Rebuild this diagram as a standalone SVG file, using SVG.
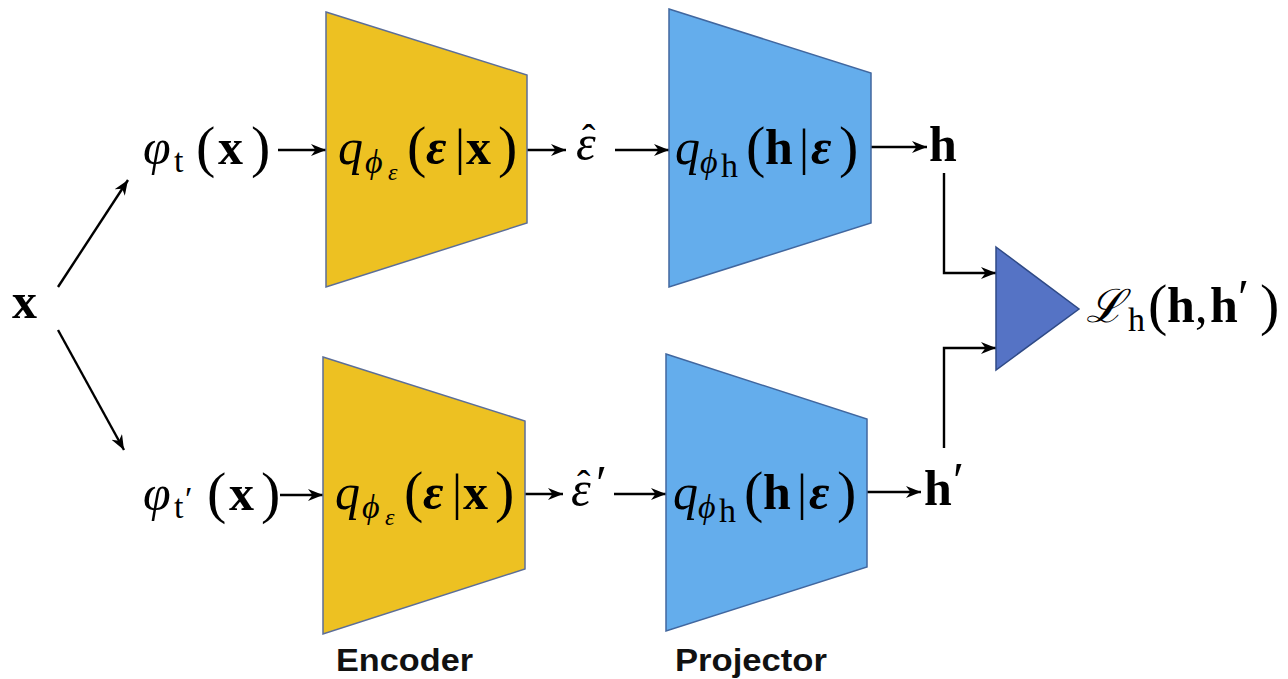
<svg xmlns="http://www.w3.org/2000/svg" width="1288" height="679" viewBox="0 0 1288 679">
<defs>
<marker id="ah" markerUnits="userSpaceOnUse" markerWidth="18" markerHeight="14" refX="15" refY="6" orient="auto">
<path d="M0,0 L15,6 L0,12 L4.5,6 z" fill="#000"/>
</marker>
<style>
.m{font-family:"Liberation Serif","DejaVu Serif",serif;font-size:50px;fill:#000}
.i{font-style:italic}
.b{font-weight:bold}
.s{font-size:34px}
.ss{font-size:24px}
.p{font-size:58px;font-weight:normal;font-style:normal}
.hat{font-size:40px;font-style:normal}
.cal{font-family:"DejaVu Serif","Liberation Serif",serif;font-size:46px}
.enc{fill:#EDC122;stroke:#5C6E98;stroke-width:1.5}
.proj{fill:#64ADEC;stroke:#41679F;stroke-width:1.5}
.loss{fill:#5573C5;stroke:#2F4A86;stroke-width:1.5}
.cn{fill:none;stroke:#000;stroke-width:2.4;marker-end:url(#ah)}
.lbl{font-family:"Liberation Sans",Arial,sans-serif;font-weight:bold;font-size:31px;fill:#111}
</style>
</defs>
<rect width="1288" height="679" fill="#fff"/>

<g id="connectors">
<path class="cn" d="M58,287 L128,180"/>
<path class="cn" d="M58,330 L124,450"/>
<path class="cn" d="M278,150 L326,150"/>
<path class="cn" d="M527,150 L566,150"/>
<path class="cn" d="M615,150 L669,150"/>
<path class="cn" d="M871,147 L927,147"/>
<path class="cn" d="M944,173 L944,273 L996,273"/>
<path class="cn" d="M944,448 L944,348 L996,348"/>
<path class="cn" d="M280,495 L323,495"/>
<path class="cn" d="M525,494 L563,494"/>
<path class="cn" d="M614,494 L666,494"/>
<path class="cn" d="M867,492 L921,492"/>
</g>

<g id="encoder-top">
<polygon class="enc" points="326,12 527,75 527,223 326,287"/>
<text class="m"><tspan class="i" x="338" y="164">q</tspan><tspan class="i s" x="365" y="173">ϕ</tspan><tspan class="i ss" x="388" y="180">ε</tspan><tspan class="p" x="407" y="166">(</tspan><tspan class="i b" x="426" y="164">ε</tspan><tspan x="455" y="164">|</tspan><tspan class="b" x="466" y="164">x</tspan><tspan class="p" x="498" y="166">)</tspan></text>
</g>

<g id="projector-top">
<polygon class="proj" points="669,9 871,73 871,223 669,287"/>
<text class="m"><tspan class="i" x="675" y="164">q</tspan><tspan class="i s" x="700" y="173">ϕ</tspan><tspan class="s" x="721" y="177">h</tspan><tspan class="p" x="746" y="166">(</tspan><tspan class="b" x="765" y="164">h</tspan><tspan x="799" y="164">|</tspan><tspan class="i b" x="811" y="164">ε</tspan><tspan class="p" x="839" y="166">)</tspan></text>
</g>

<g id="encoder-bottom">
<polygon class="enc" points="323,357 525,421 525,569 323,634"/>
<text class="m"><tspan class="i" x="335" y="509">q</tspan><tspan class="i s" x="362" y="518">ϕ</tspan><tspan class="i ss" x="385" y="525">ε</tspan><tspan class="p" x="404" y="511">(</tspan><tspan class="i b" x="423" y="509">ε</tspan><tspan x="452" y="509">|</tspan><tspan class="b" x="463" y="509">x</tspan><tspan class="p" x="495" y="511">)</tspan></text>
</g>

<g id="projector-bottom">
<polygon class="proj" points="666,354 867,419 867,567 666,631"/>
<text class="m"><tspan class="i" x="673" y="509">q</tspan><tspan class="i s" x="698" y="518">ϕ</tspan><tspan class="s" x="719" y="522">h</tspan><tspan class="p" x="744" y="511">(</tspan><tspan class="b" x="763" y="509">h</tspan><tspan x="797" y="509">|</tspan><tspan class="i b" x="809" y="509">ε</tspan><tspan class="p" x="837" y="511">)</tspan></text>
</g>

<g id="loss">
<polygon class="loss" points="996,247 1079,309 996,370"/>
</g>

<g id="x">
<text class="m b" x="12" y="318">x</text>
</g>

<g id="phi-t">
<text class="m"><tspan class="i" x="143" y="164">φ</tspan><tspan class="s" x="174" y="172">t</tspan><tspan class="p" x="196" y="166">(</tspan><tspan class="b" x="218" y="164">x</tspan><tspan class="p" x="251" y="166">)</tspan></text>
</g>

<g id="phi-t-prime">
<text class="m"><tspan class="i" x="143" y="510">φ</tspan><tspan class="s" x="174" y="518">t</tspan><tspan class="s" x="185" y="510">′</tspan><tspan class="p" x="207" y="512">(</tspan><tspan class="b" x="229" y="510">x</tspan><tspan class="p" x="261" y="512">)</tspan></text>
</g>

<g id="eps-hat">
<text class="m"><tspan class="i" x="576" y="160">ε</tspan><tspan class="hat" x="582" y="152">ˆ</tspan></text>
</g>

<g id="eps-hat-prime">
<text class="m"><tspan class="i" x="571" y="506">ε</tspan><tspan class="hat" x="577" y="498">ˆ</tspan><tspan x="596" y="500">′</tspan></text>
</g>

<g id="h">
<text class="m b" x="929" y="161">h</text>
</g>

<g id="h-prime">
<text class="m"><tspan class="b" x="924" y="505">h</tspan><tspan x="953" y="497">′</tspan></text>
</g>

<g id="loss-label">
<text class="m"><tspan class="i cal" x="1086" y="322">ℒ</tspan><tspan class="s" x="1128" y="331">h</tspan><tspan class="p" x="1148" y="324">(</tspan><tspan class="b" x="1167" y="322">h</tspan><tspan x="1195" y="322">,</tspan><tspan class="b" x="1210" y="322">h</tspan><tspan x="1238" y="314">′</tspan><tspan class="p" x="1260" y="324">)</tspan></text>
</g>

<g id="labels">
<text class="lbl" x="336" y="671" textLength="137" lengthAdjust="spacingAndGlyphs">Encoder</text>
<text class="lbl" x="675" y="671" textLength="152" lengthAdjust="spacingAndGlyphs">Projector</text>
</g>
</svg>
